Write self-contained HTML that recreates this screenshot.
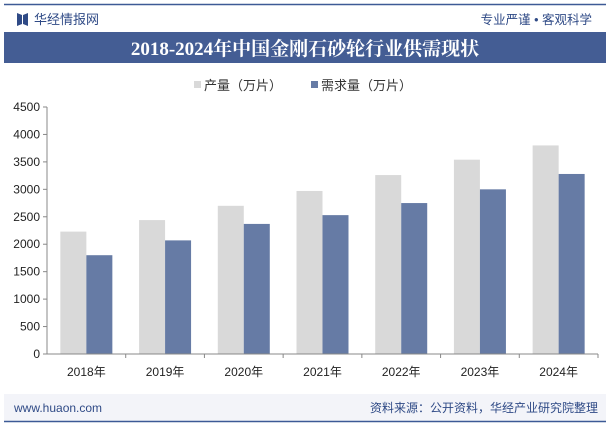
<!DOCTYPE html>
<html><head><meta charset="utf-8"><style>
body{margin:0;background:#fff;font-family:"Liberation Sans","Noto Sans CJK SC",sans-serif;}
#wrap{position:relative;width:610px;height:427px;overflow:hidden;background:#fff;}
</style></head><body>
<div id="wrap">
<svg id="svg" width="610" height="427" xmlns="http://www.w3.org/2000/svg">
<line x1="4" y1="4.5" x2="606" y2="4.5" stroke="#3d5a96" stroke-width="1.5"/>
<g>
<path d="M17 13 L22 15 L22 24 L17 26 Z M23 15 L28 13 L28 26 L23 24 Z" fill="#2f4a86"/>
<text x="34" y="24" font-size="13" fill="#2f4a86" font-family="Liberation Sans,Noto Sans CJK SC,sans-serif">华经情报网</text>
</g>
<text x="592" y="24" font-size="12.5" fill="#2f4a86" text-anchor="end">专业严谨 • 客观科学</text>
<rect x="4" y="32" width="602" height="31" fill="#445d94"/>
<text x="305" y="55" font-size="19" font-weight="bold" fill="#fff" text-anchor="middle" font-family="Liberation Serif,Noto Serif CJK SC,serif">2018-2024年中国金刚石砂轮行业供需现状</text>
<g>
<rect x="194" y="81" width="7" height="7" fill="#d9d9d9"/>
<text x="204" y="90" font-size="13" fill="#333">产量（万片）</text>
<rect x="311" y="81" width="7" height="7" fill="#667ba5"/>
<text x="321" y="90" font-size="13" fill="#333">需求量（万片）</text>
</g>
<g id="plot"></g>
<rect x="4" y="394" width="602" height="27" fill="#f3f4f9"/>
<text x="14" y="412" font-size="12" fill="#2f4a86">www.huaon.com</text>
<text x="598" y="412" font-size="12" fill="#2f4a86" text-anchor="end">资料来源：公开资料，华经产业研究院整理</text>
<line x1="4" y1="421.5" x2="606" y2="421.5" stroke="#3d5a96" stroke-width="1.5"/>
</svg>
</div>
<script>
const categories=["2018年","2019年","2020年","2021年","2022年","2023年","2024年"];
const production=[2230,2440,2700,2970,3260,3540,3800];
const demand=[1800,2070,2370,2530,2750,3000,3280];
const yTicks=[0,500,1000,1500,2000,2500,3000,3500,4000,4500];
const NS="http://www.w3.org/2000/svg";
const g=document.getElementById('plot');
const x0=47,x1=598,y0=354,yTop=107,yMax=4500;
const y=v=>y0-(v/yMax)*(y0-yTop);
const bw=(x1-x0)/categories.length;
function mk(t,a){const e=document.createElementNS(NS,t);for(const k in a)e.setAttribute(k,a[k]);g.appendChild(e);return e;}
let ax=mk('line',{x1:x0,y1:yTop,x2:x0,y2:y0,stroke:'#888'});


yTicks.forEach(v=>{
 const tk=mk('line',{x1:x0-4,y1:y(v),x2:x0,y2:y(v),stroke:'#888'});
 
 
 const t=mk('text',{x:x0-7,y:y(v)+4,'font-size':12,fill:'#222','text-anchor':'end'});
 t.textContent=v;
 
 
});
categories.forEach((c,i)=>{
 const cx=x0+bw*(i+0.5);
 const b1=mk('rect',{x:cx-26,y:y(production[i]),width:26,height:y0-y(production[i]),fill:'#d9d9d9'});
 
 
 const b2=mk('rect',{x:cx,y:y(demand[i]),width:26,height:y0-y(demand[i]),fill:'#667ba5'});
 
 
 const tk=mk('line',{x1:x0+bw*(i+1),y1:y0,x2:x0+bw*(i+1),y2:y0+4,stroke:'#888'});
 
 
 const t=mk('text',{x:cx,y:y0+22,'font-size':12,fill:'#222','text-anchor':'middle'});
 t.textContent=c;
 
 
});
let xa=mk('line',{x1:x0,y1:y0,x2:x1,y2:y0,stroke:'#888'});


</script>
</body></html>
